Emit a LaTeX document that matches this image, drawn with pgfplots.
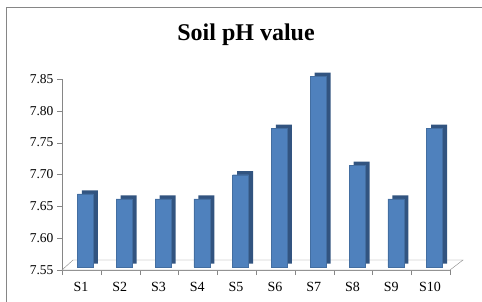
\documentclass[border=0pt]{standalone}
\usepackage{pgfplots}
\pgfplotsset{compat=1.18}
\usepackage{fontspec}
\setmainfont{Liberation Serif}
\definecolor{barfront}{RGB}{79,129,189}
\definecolor{barside}{RGB}{50,84,128}
\definecolor{axgray}{RGB}{134,134,134}
\begin{document}
\begin{tikzpicture}[x=1pt,y=1pt]
\useasboundingbox (0,0) rectangle (482,301);
\clip (0,0) rectangle (482,301);
\draw[axgray, line width=0.8pt] (6,294) rectangle (495,-10);
\node[font=\fontsize{24}{28}\selectfont\bfseries, anchor=base] at (246,261) {Soil pH value};
\begin{axis}[
  at={(62pt,31pt)}, anchor=south west,
  width=388pt, height=191pt, scale only axis,
  xmin=0.5, xmax=10.5, ymin=7.55, ymax=7.85,
  axis y line=left, axis x line=bottom,
  axis line style={draw=axgray, -},
  ytick={7.55,7.60,7.65,7.70,7.75,7.80,7.85},
  yticklabel style={/pgf/number format/fixed, /pgf/number format/fixed zerofill, /pgf/number format/precision=2, font=\fontsize{13.5}{15}\selectfont},
  /pgf/number format/assume math mode=true,
  xtick={1,2,3,4,5,6,7,8,9,10},
  xticklabels={S1,S2,S3,S4,S5,S6,S7,S8,S9,S10},
  xticklabel style={font=\fontsize{14}{16}\selectfont, yshift=-3.5pt, xshift=-0.5pt},
  minor xtick={0.5,1.5,2.5,3.5,4.5,5.5,6.5,7.5,8.5,9.5,10.5},
  major x tick style={draw=none},
  tick style={draw=axgray},
  tick align=outside,
  major tick length=5pt, minor tick length=5pt,
  clip=false,
]
\draw[axgray, fill=white] (axis cs:0.5,7.55) -- ++(11pt,10pt) -- ([shift={(13pt,10pt)}]axis cs:10.5,7.55) -- (axis cs:10.5,7.55) -- cycle;
\addplot[ybar, bar width=16pt, bar shift=8.5pt, fill=barside, draw=none, yshift=6.5pt]
  coordinates {(1,7.665) (2,7.657) (3,7.657) (4,7.657) (5,7.695) (6,7.768) (7,7.850) (8,7.710) (9,7.657) (10,7.768)};
\addplot[ybar, bar width=16pt, bar shift=4pt, fill=barfront, draw=barfront!85!black, line width=0.3pt, yshift=3pt]
  coordinates {(1,7.665) (2,7.657) (3,7.657) (4,7.657) (5,7.695) (6,7.768) (7,7.850) (8,7.710) (9,7.657) (10,7.768)};
\end{axis}
\end{tikzpicture}
\end{document}
